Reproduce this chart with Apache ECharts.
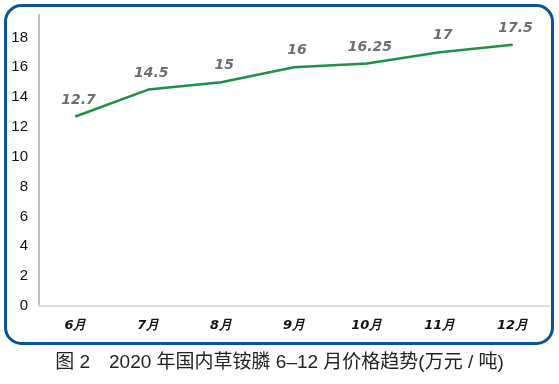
<!DOCTYPE html>
<html><head><meta charset="utf-8">
<script src="https://cdn.jsdelivr.net/npm/echarts@6/dist/echarts.min.js"></script>
<style>html,body{margin:0;padding:0;background:#fff}#c{width:559px;height:384px}</style>
</head><body><div id="c"></div>
<script>
const categories = ['6月','7月','8月','9月','10月','11月','12月'];
const prices = [12.7, 14.5, 15, 16, 16.25, 17, 17.5];
const caption = '图 2　2020 年国内草铵膦 6–12 月价格趋势(万元 / 吨)';

const chart = echarts.init(document.getElementById('c'));
chart.setOption({
  animation: false,
  backgroundColor: '#fff',
  grid: {left: 39, right: 10, top: 15, bottom: 78},
  xAxis: {
    type: 'category', data: categories, boundaryGap: true,
    axisLine: {lineStyle: {color: '#d9d9d9', width: 2}},
    axisTick: {show: false},
    axisLabel: {color: '#111', fontSize: 13, fontWeight: 'bold', fontStyle: 'italic', margin: 13, fontFamily: 'DejaVu Sans'}
  },
  yAxis: {
    type: 'value', min: 0, max: 19.5, interval: 2,
    axisLine: {show: true, lineStyle: {color: '#c0c0c0', width: 2}},
    axisTick: {show: false},
    splitLine: {show: false},
    axisLabel: {color: '#111', fontSize: 15, margin: 11, fontFamily: 'Liberation Sans', showMaxLabel: false,
      formatter: v => (v % 2 === 0 ? String(v) : '')}
  },
  series: [{
    type: 'line', data: prices, symbol: 'circle', symbolSize: 1, showSymbol: true,
    itemStyle: {color: '#1f8f4a'},
    lineStyle: {color: '#1f8f4a', width: 2.5},
    label: {show: true, position: 'top', distance: 9, color: '#6e6e6e', fontSize: 14, fontStyle: 'italic', fontWeight: 'bold', fontFamily: 'DejaVu Sans', offset: [3, 0]}
  }],
  graphic: [
    {type: 'rect', shape: {x: 5.5, y: 5.5, width: 547, height: 338, r: 16}, style: {fill: 'none', stroke: '#0b5394', lineWidth: 3}, z: 100},
    {type: 'text', left: 'center', top: 353, style: {text: caption, fill: '#222', fontSize: 19, fontFamily: 'Liberation Sans, Noto Sans CJK SC'}}
  ]
});
</script></body></html>
